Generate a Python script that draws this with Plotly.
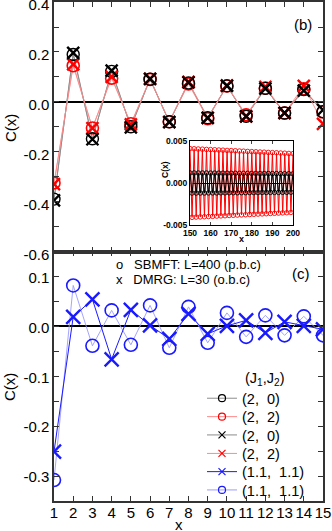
import plotly.graph_objects as go

# ---------------- data ----------------
x_main = [1, 2, 3, 4, 5, 6, 7, 8, 9, 10, 11, 12, 13, 14, 15]
x_ticktext = ["1", "2", "3", "4", "5", "6", "7", "8", "9", "10", "11", "12", "13", "14", "15"]

# panel (b)
c20_sbmft = [-0.39, 0.190, -0.148, 0.122, -0.100, 0.091, -0.080, 0.076, -0.064, 0.064, -0.058, 0.054, -0.045, 0.049, -0.040]
c22_sbmft = [-0.325, 0.145, -0.105, 0.095, -0.088, 0.090, -0.080, 0.072, -0.068, 0.064, -0.052, 0.055, -0.045, 0.052, -0.040]
c20_dmrg = [-0.395, 0.196, -0.150, 0.125, -0.102, 0.092, -0.081, 0.078, -0.064, 0.064, -0.058, 0.053, -0.044, 0.045, -0.032]
c22_dmrg = [-0.330, 0.150, -0.105, 0.100, -0.090, 0.092, -0.080, 0.080, -0.064, 0.066, -0.058, 0.060, -0.045, 0.064, -0.088]

# panel (c)
c11_dmrg = [-0.251, 0.019, 0.054, -0.066, 0.033, 0.002, -0.025, 0.025, -0.015, 0.001, 0.012, -0.013, 0.009, 0.001, -0.006]
c11_sbmft = [-0.308, 0.082, -0.039, 0.032, -0.037, 0.042, -0.043, 0.039, -0.033, 0.027, -0.021, 0.022, -0.018, 0.020, -0.018]

# inset of panel (b)
x_inset = list(range(150, 201))
inset_c22 = [0.00410, -0.00409, 0.00408, -0.00406, 0.00405, -0.00404, 0.00403, -0.00402, 0.00400, -0.00399,
             0.00398, -0.00397, 0.00396, -0.00394, 0.00393, -0.00392, 0.00391, -0.00390, 0.00388, -0.00387,
             0.00386, -0.00385, 0.00384, -0.00382, 0.00381, -0.00380, 0.00379, -0.00378, 0.00376, -0.00375,
             0.00374, -0.00373, 0.00372, -0.00370, 0.00369, -0.00368, 0.00367, -0.00366, 0.00364, -0.00363,
             0.00362, -0.00361, 0.00360, -0.00358, 0.00357, -0.00356, 0.00355, -0.00354, 0.00352, -0.00351,
             0.00350]
inset_c20 = [0.00120, -0.00120, 0.00120, -0.00120, 0.00119, -0.00119, 0.00119, -0.00119, 0.00119, -0.00118,
             0.00118, -0.00118, 0.00118, -0.00118, 0.00117, -0.00117, 0.00117, -0.00117, 0.00117, -0.00116,
             0.00116, -0.00116, 0.00116, -0.00116, 0.00115, -0.00115, 0.00115, -0.00115, 0.00115, -0.00114,
             0.00114, -0.00114, 0.00114, -0.00114, 0.00113, -0.00113, 0.00113, -0.00113, 0.00113, -0.00112,
             0.00112, -0.00112, 0.00112, -0.00112, 0.00111, -0.00111, 0.00111, -0.00111, 0.00111, -0.00110,
             0.00110]

top_yticks = [0.4, 0.2, 0.0, -0.2, -0.4, -0.6]
top_yticktext = ["0.4", "0.2", "0.0", "-0.2", "-0.4", "-0.6"]
top_yminor = [0.3, 0.1, -0.1, -0.3, -0.5]
bot_yticks = [0.1, 0.0, -0.1, -0.2, -0.3]
bot_yticktext = ["0.1", "0.0", "-0.1", "-0.2", "-0.3"]
bot_yminor = [0.15, 0.05, -0.05, -0.15, -0.25, -0.35]
inset_xticks = [150, 160, 170, 180, 190, 200]
inset_yticks = [0.005, 0.0, -0.005]
inset_yticktext = ["0.005", "0.000", "-0.005"]

legend_labels = ["(2,\u00a0 0)", "(2,\u00a0 2)", "(2,\u00a0 0)", "(2,\u00a0 2)", "(1.1,\u00a0 1.1)", "(1.1,\u00a0 1.1)"]

# ---------------- style ----------------
FONT = "Liberation Sans, Arial, sans-serif"
GRAY = "#8c8c8c"
PINK = "#ff8a8a"
RED = "#ff0000"
BLUE = "#1a1aff"
LBLUE = "#9a9aff"

L, R, T, B = 54, 9, 2, 30
W, H = 332, 531
PW, PH = W - L - R, H - T - B


def px(xp):
    return (xp - L) / PW


def py(yp):
    return (H - B - yp) / PH


fig = go.Figure()

# panel (b) lines
for vals, col in [(c20_sbmft, GRAY), (c22_sbmft, PINK), (c20_dmrg, GRAY), (c22_dmrg, PINK)]:
    fig.add_trace(go.Scatter(x=x_main, y=vals, mode="lines", line=dict(color=col, width=0.9),
                             xaxis="x2", yaxis="y2", showlegend=False, hoverinfo="skip"))
# panel (b) markers
fig.add_trace(go.Scatter(x=x_main, y=c22_sbmft, mode="markers", xaxis="x2", yaxis="y2", showlegend=False,
                         marker=dict(symbol="circle-open", size=12, color=RED, line=dict(width=1.6))))
fig.add_trace(go.Scatter(x=x_main, y=c20_sbmft, mode="markers", xaxis="x2", yaxis="y2", showlegend=False,
                         marker=dict(symbol="circle-open", size=12, color="black", line=dict(width=1.4))))
fig.add_trace(go.Scatter(x=x_main, y=c22_dmrg, mode="markers", xaxis="x2", yaxis="y2", showlegend=False,
                         marker=dict(symbol="x-thin-open", size=12, color=RED, line=dict(width=2.4, color=RED))))
fig.add_trace(go.Scatter(x=x_main, y=c20_dmrg, mode="markers", xaxis="x2", yaxis="y2", showlegend=False,
                         marker=dict(symbol="x-thin-open", size=12, color="black", line=dict(width=2.4, color="black"))))

# panel (c)
fig.add_trace(go.Scatter(x=x_main, y=c11_sbmft, mode="lines+markers", xaxis="x", yaxis="y", showlegend=False,
                         line=dict(color=LBLUE, width=0.9),
                         marker=dict(symbol="circle-open", size=13, color=BLUE, line=dict(width=1.6))))
fig.add_trace(go.Scatter(x=x_main, y=c11_dmrg, mode="lines+markers", xaxis="x", yaxis="y", showlegend=False,
                         line=dict(color=BLUE, width=1),
                         marker=dict(symbol="x-thin-open", size=14, color=BLUE, line=dict(width=2.4, color=BLUE))))

# inset
fig.add_trace(go.Scatter(x=x_inset, y=inset_c22, mode="lines+markers", xaxis="x3", yaxis="y3", showlegend=False,
                         line=dict(color=RED, width=1),
                         marker=dict(symbol="circle-open", size=4.5, color=RED, line=dict(width=0.9))))
fig.add_trace(go.Scatter(x=x_inset, y=inset_c20, mode="lines+markers", xaxis="x3", yaxis="y3", showlegend=False,
                         line=dict(color="black", width=1),
                         marker=dict(symbol="circle-open", size=4.5, color="black", line=dict(width=0.9))))

# legend entries (one legend per entry so spacing matches)
leg_styles = [
    (GRAY, "black", "circle-open"),
    (PINK, RED, "circle-open"),
    (GRAY, "black", "x-thin-open"),
    (PINK, RED, "x-thin-open"),
    (BLUE, BLUE, "x-thin-open"),
    (LBLUE, BLUE, "circle-open"),
]
leg_y = [398.3, 416.7, 435.0, 453.5, 471.7, 490.0]
for i, (lab, (lc, mc, sym)) in enumerate(zip(legend_labels, leg_styles)):
    name = "legend" if i == 0 else f"legend{i + 1}"
    fig.add_trace(go.Scatter(x=[None], y=[None], mode="lines+markers", name=lab, legend=name,
                             xaxis="x", yaxis="y",
                             line=dict(color=lc, width=1),
                             marker=dict(symbol=sym, size=7, color=mc, line=dict(width=1.2, color=mc))))
    fig.update_layout({name: dict(x=px(202), y=py(leg_y[i]), xanchor="left", yanchor="middle",
                                  bgcolor="rgba(0,0,0,0)", borderwidth=0,
                                  font=dict(family=FONT, size=14.5, color="black"))})

axis_common = dict(showline=True, linecolor="#333333", linewidth=1.5, mirror="allticks", ticks="inside",
                   ticklen=5, tickwidth=1.2, tickcolor="#333333", showgrid=False, automargin=False,
                   ticklabeloverflow="allow",
                   tickfont=dict(family=FONT, size=15, color="black"))

fig.update_layout(
    width=W, height=H,
    margin=dict(l=L, r=R, t=T, b=B),
    paper_bgcolor="white", plot_bgcolor="white",
    font=dict(family=FONT, color="black"),
    xaxis=dict(domain=[0, 1], anchor="y", range=[1, 15], tickvals=x_main, ticktext=x_ticktext,
               zeroline=False, ticklabelstandoff=-3, **axis_common),
    yaxis=dict(domain=[0, 0.5], anchor="x", range=[-0.35, 0.15], tickvals=bot_yticks, ticktext=bot_yticktext,
               minor=dict(tickvals=bot_yminor, ticks="inside", ticklen=5, tickcolor="#333333"),
               zeroline=True, zerolinecolor="black", zerolinewidth=1.5, ticklabelshift=1, **axis_common),
    xaxis2=dict(domain=[0, 1], anchor="y2", range=[1, 15], tickvals=x_main, showticklabels=False,
                zeroline=False, **axis_common),
    yaxis2=dict(domain=[0.5, 1], anchor="x2", range=[-0.6, 0.4003], tickvals=top_yticks, ticktext=top_yticktext,
                minor=dict(tickvals=top_yminor, ticks="inside", ticklen=5, tickcolor="#333333"),
                zeroline=True, zerolinecolor="black", zerolinewidth=1.5, ticklabelshift=3, **axis_common),
    xaxis3=dict(domain=[px(190), px(293)], anchor="y3", range=[150, 200], tickvals=inset_xticks,
                showline=True, linecolor="black", linewidth=1, mirror="allticks", ticks="inside", ticklen=3,
                showgrid=False, zeroline=False, automargin=False,
                tickfont=dict(family=FONT, size=8.5, color="black", weight="bold")),
    yaxis3=dict(domain=[py(225), py(141)], anchor="x3", range=[-0.005, 0.005], tickvals=inset_yticks,
                ticktext=inset_yticktext, automargin=False,
                showline=True, linecolor="black", linewidth=1, mirror="allticks", ticks="inside", ticklen=3,
                showgrid=False, zeroline=True, zerolinecolor="black", zerolinewidth=1,
                tickfont=dict(family=FONT, size=8.5, color="black", weight="bold")),
)

ann = [
    dict(text="(b)", x=px(303), y=py(24)),
    dict(text="(c)", x=px(301), y=py(273)),
    dict(text="C(x)", x=px(10), y=py(128), textangle=-90, font=dict(family=FONT, size=15, color="black")),
    dict(text="C(x)", x=px(9), y=py(387), textangle=-90, font=dict(family=FONT, size=15, color="black")),
    dict(text="x", x=px(179), y=py(524), font=dict(family=FONT, size=15, color="black")),
    dict(text="<b>C(x)</b>", x=px(165), y=py(170), textangle=-90, font=dict(family=FONT, size=8.5, color="black")),
    dict(text="<b>x</b>", x=px(241), y=py(239), font=dict(family=FONT, size=9, color="black")),
    dict(text="(J<sub>1</sub>,J<sub>2</sub>)", x=px(243), y=py(379), xanchor="left",
         font=dict(family=FONT, size=14.5, color="black")),
    dict(text="o\u00a0\u00a0 SBMFT: L=400 (p.b.c)", x=px(114), y=py(264), xanchor="left",
         font=dict(family=FONT, size=13, color="black")),
    dict(text="x\u00a0\u00a0 DMRG: L=30 (o.b.c)", x=px(114), y=py(279), xanchor="left",
         font=dict(family=FONT, size=13, color="black")),
]
for a in ann:
    a.setdefault("font", dict(family=FONT, size=15, color="black"))
    a.setdefault("xanchor", "center")
    fig.add_annotation(xref="paper", yref="paper", showarrow=False, yanchor="middle", **a)

fig.write_html("out.html", config={"displayModeBar": False},
               post_script="document.body.style.margin='0';document.body.style.overflow='hidden';")
